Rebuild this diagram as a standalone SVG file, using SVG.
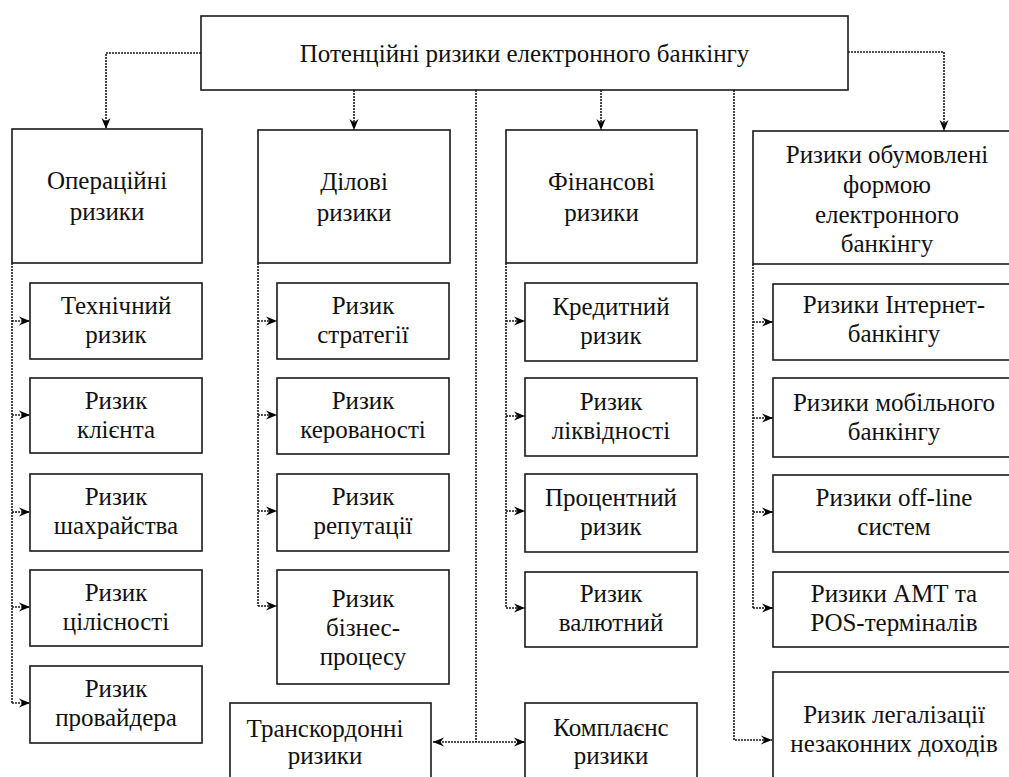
<svg xmlns="http://www.w3.org/2000/svg" width="1009" height="777" viewBox="0 0 1009 777">
<defs>
<marker id="arr" markerUnits="userSpaceOnUse" markerWidth="12" markerHeight="10" refX="11" refY="5" orient="auto-start-reverse">
<path d="M0,0.5 L11,5 L0,9.5 L3.5,5 z" fill="#000"/>
</marker>
</defs>
<rect width="1009" height="777" fill="#fff"/>

<g id="connectors" fill="none" stroke="#1a1a1a" stroke-width="1.6" stroke-dasharray="2 1">
<path marker-end="url(#arr)" d="M201,53 H106 V129"/>
<path marker-end="url(#arr)" d="M354,90 V130"/>
<path marker-end="url(#arr)" d="M601,90 V130"/>
<path marker-end="url(#arr)" d="M848,52 H944 V131"/>
<path d="M476,90 V742"/>
<path marker-start="url(#arr)" marker-end="url(#arr)" d="M433,742 H525"/>
<path marker-end="url(#arr)" d="M734,90 V740 H772"/>
<path d="M12,263 V703"/>
<path marker-end="url(#arr)" d="M12,321 H30"/>
<path marker-end="url(#arr)" d="M12,415 H30"/>
<path marker-end="url(#arr)" d="M12,512 H30"/>
<path marker-end="url(#arr)" d="M12,607 H30"/>
<path marker-end="url(#arr)" d="M12,703 H30"/>
<path d="M258,263 V606"/>
<path marker-end="url(#arr)" d="M258,321 H277"/>
<path marker-end="url(#arr)" d="M258,415 H277"/>
<path marker-end="url(#arr)" d="M258,511 H277"/>
<path marker-end="url(#arr)" d="M258,606 H277"/>
<path d="M506,263 V608"/>
<path marker-end="url(#arr)" d="M506,321 H525"/>
<path marker-end="url(#arr)" d="M506,416 H525"/>
<path marker-end="url(#arr)" d="M506,511 H525"/>
<path marker-end="url(#arr)" d="M506,608 H525"/>
<path d="M753,264 V608"/>
<path marker-end="url(#arr)" d="M753,322 H773"/>
<path marker-end="url(#arr)" d="M753,418 H773"/>
<path marker-end="url(#arr)" d="M753,512 H773"/>
<path marker-end="url(#arr)" d="M753,608 H773"/>
</g>

<g font-family="Liberation Serif" font-size="25" text-anchor="middle" fill="#111">
<g id="title"><rect fill="#fff" stroke="#1a1a1a" stroke-width="1.6" x="201" y="16" width="647" height="74"/><text style="font-family:'Liberation Serif',serif" font-family="Liberation Serif" x="524.5" y="62">Потенційні ризики електронного банкінгу</text></g>

<g id="col1"><rect fill="#fff" stroke="#1a1a1a" stroke-width="1.6" x="12" y="129" width="190" height="134"/><text style="font-family:'Liberation Serif',serif" font-family="Liberation Serif" x="107" y="189">Операційні</text><text style="font-family:'Liberation Serif',serif" font-family="Liberation Serif" x="107" y="220">ризики</text></g>
<g id="col2"><rect fill="#fff" stroke="#1a1a1a" stroke-width="1.6" x="258" y="130" width="192" height="133"/><text style="font-family:'Liberation Serif',serif" font-family="Liberation Serif" x="354" y="190">Ділові</text><text style="font-family:'Liberation Serif',serif" font-family="Liberation Serif" x="354" y="221">ризики</text></g>
<g id="col3"><rect fill="#fff" stroke="#1a1a1a" stroke-width="1.6" x="506" y="130" width="191" height="133"/><text style="font-family:'Liberation Serif',serif" font-family="Liberation Serif" x="601.5" y="190">Фінансові</text><text style="font-family:'Liberation Serif',serif" font-family="Liberation Serif" x="601.5" y="221">ризики</text></g>
<g id="col4"><rect fill="#fff" stroke="#1a1a1a" stroke-width="1.6" x="753" y="131" width="262" height="133"/><text style="font-family:'Liberation Serif',serif" font-family="Liberation Serif" x="887" y="163">Ризики обумовлені</text><text style="font-family:'Liberation Serif',serif" font-family="Liberation Serif" x="887" y="193">формою</text><text style="font-family:'Liberation Serif',serif" font-family="Liberation Serif" x="887" y="223">електронного</text><text style="font-family:'Liberation Serif',serif" font-family="Liberation Serif" x="887" y="252">банкінгу</text></g>

<g id="tech"><rect fill="#fff" stroke="#1a1a1a" stroke-width="1.6" x="30" y="283" width="172" height="76"/><text style="font-family:'Liberation Serif',serif" font-family="Liberation Serif" x="116" y="314">Технічний</text><text style="font-family:'Liberation Serif',serif" font-family="Liberation Serif" x="116" y="343">ризик</text></g>
<g id="client"><rect fill="#fff" stroke="#1a1a1a" stroke-width="1.6" x="30" y="378" width="172" height="75"/><text style="font-family:'Liberation Serif',serif" font-family="Liberation Serif" x="116" y="409">Ризик</text><text style="font-family:'Liberation Serif',serif" font-family="Liberation Serif" x="116" y="438">клієнта</text></g>
<g id="fraud"><rect fill="#fff" stroke="#1a1a1a" stroke-width="1.6" x="30" y="474" width="172" height="77"/><text style="font-family:'Liberation Serif',serif" font-family="Liberation Serif" x="116" y="505">Ризик</text><text style="font-family:'Liberation Serif',serif" font-family="Liberation Serif" x="116" y="534">шахрайства</text></g>
<g id="integrity"><rect fill="#fff" stroke="#1a1a1a" stroke-width="1.6" x="30" y="570" width="172" height="76"/><text style="font-family:'Liberation Serif',serif" font-family="Liberation Serif" x="116" y="601">Ризик</text><text style="font-family:'Liberation Serif',serif" font-family="Liberation Serif" x="116" y="630">цілісності</text></g>
<g id="provider"><rect fill="#fff" stroke="#1a1a1a" stroke-width="1.6" x="30" y="666" width="172" height="77"/><text style="font-family:'Liberation Serif',serif" font-family="Liberation Serif" x="116" y="697">Ризик</text><text style="font-family:'Liberation Serif',serif" font-family="Liberation Serif" x="116" y="726">провайдера</text></g>

<g id="strategy"><rect fill="#fff" stroke="#1a1a1a" stroke-width="1.6" x="277" y="283" width="172" height="76"/><text style="font-family:'Liberation Serif',serif" font-family="Liberation Serif" x="363" y="314">Ризик</text><text style="font-family:'Liberation Serif',serif" font-family="Liberation Serif" x="363" y="343">стратегії</text></g>
<g id="control"><rect fill="#fff" stroke="#1a1a1a" stroke-width="1.6" x="277" y="378" width="172" height="76"/><text style="font-family:'Liberation Serif',serif" font-family="Liberation Serif" x="363" y="409">Ризик</text><text style="font-family:'Liberation Serif',serif" font-family="Liberation Serif" x="363" y="438">керованості</text></g>
<g id="reputation"><rect fill="#fff" stroke="#1a1a1a" stroke-width="1.6" x="277" y="474" width="172" height="77"/><text style="font-family:'Liberation Serif',serif" font-family="Liberation Serif" x="363" y="505">Ризик</text><text style="font-family:'Liberation Serif',serif" font-family="Liberation Serif" x="363" y="534">репутації</text></g>
<g id="business"><rect fill="#fff" stroke="#1a1a1a" stroke-width="1.6" x="277" y="570" width="172" height="114"/><text style="font-family:'Liberation Serif',serif" font-family="Liberation Serif" x="363" y="607">Ризик</text><text style="font-family:'Liberation Serif',serif" font-family="Liberation Serif" x="363" y="636">бізнес-</text><text style="font-family:'Liberation Serif',serif" font-family="Liberation Serif" x="363" y="665">процесу</text></g>

<g id="credit"><rect fill="#fff" stroke="#1a1a1a" stroke-width="1.6" x="525" y="283" width="172" height="78"/><text style="font-family:'Liberation Serif',serif" font-family="Liberation Serif" x="611" y="315">Кредитний</text><text style="font-family:'Liberation Serif',serif" font-family="Liberation Serif" x="611" y="344">ризик</text></g>
<g id="liquidity"><rect fill="#fff" stroke="#1a1a1a" stroke-width="1.6" x="525" y="378" width="172" height="78"/><text style="font-family:'Liberation Serif',serif" font-family="Liberation Serif" x="611" y="410">Ризик</text><text style="font-family:'Liberation Serif',serif" font-family="Liberation Serif" x="611" y="439">ліквідності</text></g>
<g id="interest"><rect fill="#fff" stroke="#1a1a1a" stroke-width="1.6" x="525" y="474" width="172" height="78"/><text style="font-family:'Liberation Serif',serif" font-family="Liberation Serif" x="611" y="506">Процентний</text><text style="font-family:'Liberation Serif',serif" font-family="Liberation Serif" x="611" y="535">ризик</text></g>
<g id="currency"><rect fill="#fff" stroke="#1a1a1a" stroke-width="1.6" x="525" y="572" width="172" height="75"/><text style="font-family:'Liberation Serif',serif" font-family="Liberation Serif" x="611" y="602">Ризик</text><text style="font-family:'Liberation Serif',serif" font-family="Liberation Serif" x="611" y="631">валютний</text></g>

<g id="internet"><rect fill="#fff" stroke="#1a1a1a" stroke-width="1.6" x="773" y="284" width="242" height="76"/><text style="font-family:'Liberation Serif',serif" font-family="Liberation Serif" x="894" y="313">Ризики Інтернет-</text><text style="font-family:'Liberation Serif',serif" font-family="Liberation Serif" x="894" y="342">банкінгу</text></g>
<g id="mobile"><rect fill="#fff" stroke="#1a1a1a" stroke-width="1.6" x="773" y="378" width="242" height="79"/><text style="font-family:'Liberation Serif',serif" font-family="Liberation Serif" x="894" y="411">Ризики мобільного</text><text style="font-family:'Liberation Serif',serif" font-family="Liberation Serif" x="894" y="440">банкінгу</text></g>
<g id="offline"><rect fill="#fff" stroke="#1a1a1a" stroke-width="1.6" x="773" y="475" width="242" height="77"/><text style="font-family:'Liberation Serif',serif" font-family="Liberation Serif" x="894" y="506">Ризики off-line</text><text style="font-family:'Liberation Serif',serif" font-family="Liberation Serif" x="894" y="535">систем</text></g>
<g id="atm"><rect fill="#fff" stroke="#1a1a1a" stroke-width="1.6" x="773" y="572" width="242" height="75"/><text style="font-family:'Liberation Serif',serif" font-family="Liberation Serif" x="894" y="602">Ризики АМТ та</text><text style="font-family:'Liberation Serif',serif" font-family="Liberation Serif" x="894" y="631">POS-терміналів</text></g>
<g id="laundering"><rect fill="#fff" stroke="#1a1a1a" stroke-width="1.6" x="773" y="672" width="242" height="120"/><text style="font-family:'Liberation Serif',serif" font-family="Liberation Serif" x="894" y="723">Ризик легалізації</text><text style="font-family:'Liberation Serif',serif" font-family="Liberation Serif" x="894" y="752">незаконних доходів</text></g>

<g id="crossborder"><rect fill="#fff" stroke="#1a1a1a" stroke-width="1.6" x="230" y="703" width="201" height="90"/><text style="font-family:'Liberation Serif',serif" font-family="Liberation Serif" x="325" y="737">Транскордонні</text><text style="font-family:'Liberation Serif',serif" font-family="Liberation Serif" x="325" y="764">ризики</text></g>
<g id="compliance"><rect fill="#fff" stroke="#1a1a1a" stroke-width="1.6" x="525" y="703" width="172" height="90"/><text style="font-family:'Liberation Serif',serif" font-family="Liberation Serif" x="611" y="736">Комплаєнс</text><text style="font-family:'Liberation Serif',serif" font-family="Liberation Serif" x="611" y="764">ризики</text></g>
</g>
</svg>
